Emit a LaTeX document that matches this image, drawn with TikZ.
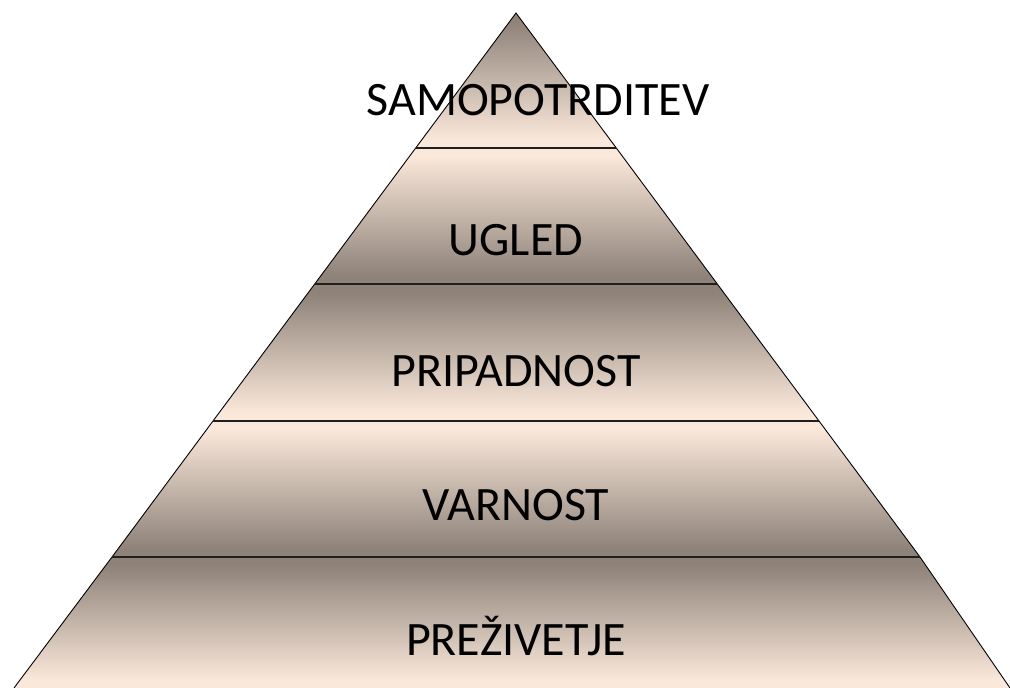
\documentclass[tikz,border=0pt]{standalone}
\usepackage{fontspec}
\setmainfont{Carlito}
\definecolor{banddark}{RGB}{142,130,121}
\definecolor{bandlight}{RGB}{250,232,218}
% vertical shadings: the filled band spans 25bp (bottom) to 75bp (top)
\pgfdeclareverticalshading{darktop}{100bp}{color(0bp)=(bandlight); color(28bp)=(bandlight); color(72bp)=(banddark); color(100bp)=(banddark)}
\pgfdeclareverticalshading{lighttop}{100bp}{color(0bp)=(banddark); color(28bp)=(banddark); color(72bp)=(bandlight); color(100bp)=(bandlight)}
\tikzset{
  tier/.style={font=\fontsize{48}{52}\selectfont, anchor=base, inner sep=0pt},
  divider/.style={line width=2pt, draw=black!88},
  edge/.style={line width=0.9pt, draw=black},
}
\begin{document}
\begin{tikzpicture}[x=1pt, y=-1pt]
\useasboundingbox (0,0) rectangle (1010,688);
% corner points of the pyramid bands
\coordinate (apex) at (516,13);
\coordinate (l1) at (415.7,148); \coordinate (r1) at (616.3,148);
\coordinate (l2) at (314.7,284); \coordinate (r2) at (717.3,284);
\coordinate (l3) at (213,421);   \coordinate (r3) at (819,421);
\coordinate (l4) at (112,557);   \coordinate (r4) at (920,557);
\coordinate (l5) at (14,688);    \coordinate (r5) at (1010,688);
% shaded bands
\shade[shading=darktop]  (apex) -- (r1) -- (l1) -- cycle;
\shade[shading=lighttop] (l1) -- (r1) -- (r2) -- (l2) -- cycle;
\shade[shading=darktop]  (l2) -- (r2) -- (r3) -- (l3) -- cycle;
\shade[shading=lighttop] (l3) -- (r3) -- (r4) -- (l4) -- cycle;
\shade[shading=darktop]  (l4) -- (r4) -- (r5) -- (l5) -- cycle;
% outline and dividers
\draw[edge] (l5) -- (l4) -- (l3) -- (l2) -- (l1) -- (apex) -- (r1) -- (r2) -- (r3) -- (r4) -- (r5);
\draw[divider] (l1) -- (r1);
\draw[divider] (l2) -- (r2);
\draw[divider] (l3) -- (r3);
\draw[divider] (l4) -- (r4);
% tier labels
\node[tier] (t1) at (538,115) {SAMOPOTRDITEV};
\node[tier] (t2) at (516,255) {UGLED};
\node[tier] (t3) at (516,386) {PRIPADNOST};
\node[tier] (t4) at (516,520) {VARNOST};
\node[tier] (t5) at (516,655) {PREŽIVETJE};
\end{tikzpicture}
\end{document}
